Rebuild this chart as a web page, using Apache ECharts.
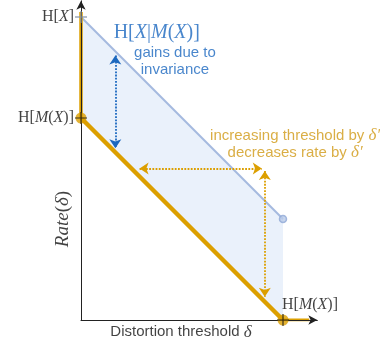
<!DOCTYPE html>
<html><head><meta charset="utf-8">
<script src="https://cdn.jsdelivr.net/npm/echarts@6/dist/echarts.min.js"></script>
<style>html,body{margin:0;padding:0;background:#fff}#c{width:380px;height:343px}</style>
</head><body><div id="c"></div>
<script>
// ---- data (units: entropy / distortion) ----
const H_X = 3;            // H[X]
const H_MX = 2;           // H[M(X)]
const D_MAX = 2;          // distortion at which orange curve reaches 0
const invariantCurve = [[0, H_MX], [D_MAX, 0]];        // orange R(δ)
const plainCurve = [[0, H_X], [D_MAX, H_X - D_MAX]];   // blue R(δ)
const verticalSeg = [[0, 3.05], [0, H_MX]];
const horizontalSeg = [[D_MAX, 0], [2.26, 0]];
const fillPoly = [[0, H_X], [D_MAX, H_X - D_MAX], [D_MAX, 0], [0, H_MX]];
const crossPoints = [[0, H_MX], [D_MAX, 0]];
const grayCross = [[0, H_X]];
const arrowBlue = [[0.34, 2.62], [0.34, 1.70]];
const arrowOrangeH = [[0.58, 1.50], [1.79, 1.50]];
const arrowOrangeV = [[1.82, 1.475], [1.82, 0.23]];

const ORANGE = '#dc9f00', ORANGE_T = '#d19a17', BLUE_T = '#1c68bf', BLUE_L = '#a5badf';
const SERIF = 'Liberation Serif', SANS = 'Liberation Sans';
const PX = 101;

function rich(color, size) {
  return {
    r: {fontFamily: SERIF, fontSize: size, color: color},
    i: {fontFamily: SERIF, fontStyle: 'italic', fontSize: size, color: color},
    s: {fontFamily: SANS, fontSize: 15, color: color, lineHeight: 17},
    d: {fontFamily: SERIF, fontStyle: 'italic', fontSize: 17, color: color, lineHeight: 17}
  };
}
const annotations = [
  {at: [0, H_X], text: '{r|H[}{i|X}{r|]}', pos: 'left', color: '#111', size: 16, dist: 7},
  {at: [0, H_MX], text: '{r|H[}{i|M}{r|(}{i|X}{r|)]}', pos: 'left', color: '#111', size: 16, dist: 7},
  {at: [D_MAX, 0.15], text: '{r|H[}{i|M}{r|(}{i|X}{r|)]}', pos: 'right', color: '#111', size: 16, dist: -1},
  {at: [0.75, 2.84], text: '{r|H[}{i|X}{r||}{i|M}{r|(}{i|X}{r|)]}', pos: 'inside', color: BLUE_T, size: 20},
  {at: [0.93, 2.56], text: '{s|gains due to}\n{s|invariance}', pos: 'inside', color: BLUE_T, size: 15},
  {at: [2.12, 1.74], text: '{s|increasing threshold by }{d|δ′}\n{s|decreases rate by }{d|δ′}', pos: 'inside', color: ORANGE_T, size: 15},
  {at: [0.99, -0.12], text: '{s|Distortion threshold }{d|δ}', pos: 'inside', color: '#111', size: 15},
  {at: [-0.18, 1.0], text: '{i|Rate}{r|(}{i|δ}{r|)}', pos: 'inside', color: '#111', size: 19, rotate: 90}
];

const chart = echarts.init(document.getElementById('c'), null, {renderer: 'canvas'});
const axisCommon = {
  type: 'value', min: 0, z: 3,
  axisLine: {show: true, lineStyle: {color: '#222', width: 1}, symbol: ['none', 'arrow'], symbolSize: [7, 9]},
  axisTick: {show: false}, axisLabel: {show: false}, splitLine: {show: false}
};
function arrowSeries(coords, color) {
  return {
    type: 'lines', coordinateSystem: 'cartesian2d', z: 4,
    symbol: ['arrow', 'arrow'], symbolSize: 9,
    lineStyle: {color: color, width: 1.8, type: [1.8, 1.4], opacity: 1},
    data: [{coords: coords}]
  };
}
const crossPath = 'path://M0,6L12,6M6,0L6,12';
chart.setOption({
  backgroundColor: '#fff',
  animation: false,
  grid: {left: 81, bottom: 23, width: 2.34 * PX, height: 3.16 * PX},
  xAxis: Object.assign({}, axisCommon, {max: 2.34}),
  yAxis: Object.assign({}, axisCommon, {max: 3.16}),
  series: [
    {
      type: 'custom', z: 1, data: [0],
      renderItem: function (params, api) {
        return {type: 'polygon', shape: {points: fillPoly.map(p => api.coord(p))}, style: {fill: '#eaf1fb'}};
      }
    },
    {type: 'line', data: plainCurve, symbol: 'none', z: 2, lineStyle: {color: BLUE_L, width: 2}},
    {type: 'line', data: verticalSeg, symbol: 'none', z: 2, lineStyle: {color: ORANGE, width: 3.5}},
    {type: 'line', data: invariantCurve, symbol: 'none', z: 2, lineStyle: {color: ORANGE, width: 4.5}},
    {type: 'line', data: horizontalSeg, symbol: 'none', z: 2, lineStyle: {color: ORANGE, width: 3}},
    {type: 'scatter', data: [plainCurve[1]], symbol: 'circle', symbolSize: 7, z: 4,
      itemStyle: {color: '#b9cbe9', borderColor: '#8ea8d6', borderWidth: 1.5}},
    {type: 'scatter', data: crossPoints, symbol: 'circle', symbolSize: 11, z: 4, itemStyle: {color: ORANGE}},
    {type: 'scatter', data: crossPoints, symbol: crossPath, symbolSize: 12, z: 5,
      itemStyle: {color: 'none', borderColor: '#111', borderWidth: 1.2}},
    {type: 'scatter', data: grayCross, symbol: crossPath, symbolSize: 12, z: 5,
      itemStyle: {color: 'none', borderColor: '#8494a8', borderWidth: 1.5}},
    arrowSeries(arrowBlue, BLUE_T),
    arrowSeries(arrowOrangeH, ORANGE),
    arrowSeries(arrowOrangeV, ORANGE),
    {
      type: 'scatter', symbolSize: 0, z: 6, clip: false, silent: true,
      data: annotations.map(a => ({
        value: a.at,
        label: {
          show: true, formatter: a.text, position: a.pos, distance: a.dist == null ? 7 : a.dist,
          rotate: a.rotate || 0, align: a.pos === 'left' ? 'right' : (a.pos === 'right' ? 'left' : 'center'),
          verticalAlign: 'middle', rich: rich(a.color, a.size)
        }
      }))
    }
  ]
});
</script></body></html>
